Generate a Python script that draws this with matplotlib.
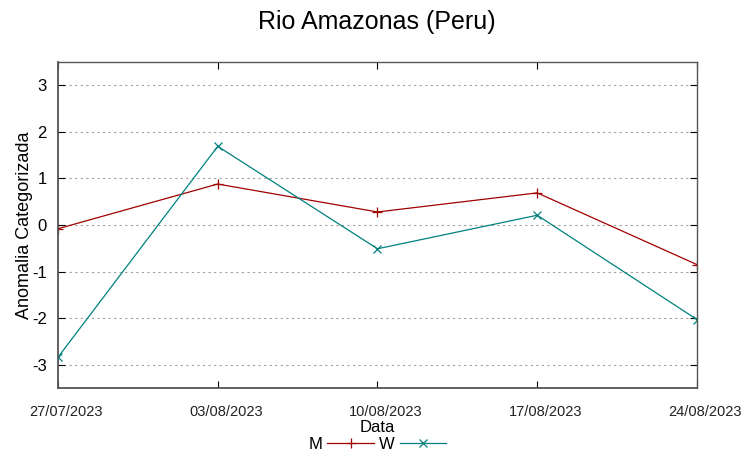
import matplotlib
matplotlib.use('Agg')
import matplotlib.pyplot as plt
import matplotlib.dates as mdates
import matplotlib.transforms as mtransforms
from datetime import datetime

plt.rcParams['font.family'] = ['Liberation Sans', 'DejaVu Sans']
plt.rcParams['axes.unicode_minus'] = False

datas = ['27/07/2023', '03/08/2023', '10/08/2023', '17/08/2023', '24/08/2023']
serie_m = [-0.08, 0.88, 0.28, 0.69, -0.85]
serie_w = [-2.84, 1.69, -0.51, 0.21, -2.03]
y_ticks = [-3, -2, -1, 0, 1, 2, 3]

x = [datetime.strptime(d, '%d/%m/%Y') for d in datas]

fig = plt.figure(figsize=(7.53, 4.58), dpi=100)
ax = fig.add_axes([0.077, 0.1528, 0.8486, 0.7118])

ax.plot(x, serie_m, color='#a00000', lw=0.9, marker='+', ms=7, mew=0.9, label='M')
ax.plot(x, serie_w, color='#008080', lw=0.9, marker='x', ms=6, mew=0.9, label='W')

ax.set_xlim(x[0], x[-1])
ax.set_ylim(-3.5, 3.5)
ax.set_yticks(y_ticks)
ax.set_xticks(x)
ax.xaxis.set_major_formatter(mdates.DateFormatter('%d/%m/%Y'))
ax.tick_params(axis='x', labelsize=10.5, direction='in', top=True, length=5, pad=12,
               labelcolor='#222222')
ax.tick_params(axis='y', labelsize=12, direction='in', right=True, length=5, pad=8)
ax.grid(axis='y', color='#a0a0a0', linestyle=(0, (2, 3)), lw=0.8)

# gnuplot puts the date labels a bit to the right of their ticks
shift = mtransforms.ScaledTranslation(0.08, 0, fig.dpi_scale_trans)
for lbl in ax.get_xticklabels():
    lbl.set_transform(lbl.get_transform() + shift)

for side in ['left', 'bottom']:
    ax.spines[side].set_linewidth(1.3)
    ax.spines[side].set_color('#555555')
for side in ['top', 'right']:
    ax.spines[side].set_linewidth(1.0)
    ax.spines[side].set_color('#555555')

ax.set_ylabel('Anomalia Categorizada', fontsize=13, labelpad=-1)
ax.set_xlabel('Data', fontsize=12, labelpad=1)

fig.text(0.5, 0.952, 'Rio Amazonas (Peru)', ha='center', va='center', fontsize=18)

ax.legend(loc='center', bbox_to_anchor=(0.5, -0.172), ncol=2, frameon=False,
          markerfirst=False, fontsize=12, handlelength=2.8, handletextpad=0.3,
          columnspacing=0.3, borderpad=0)

fig.savefig('out.png', dpi=100)
